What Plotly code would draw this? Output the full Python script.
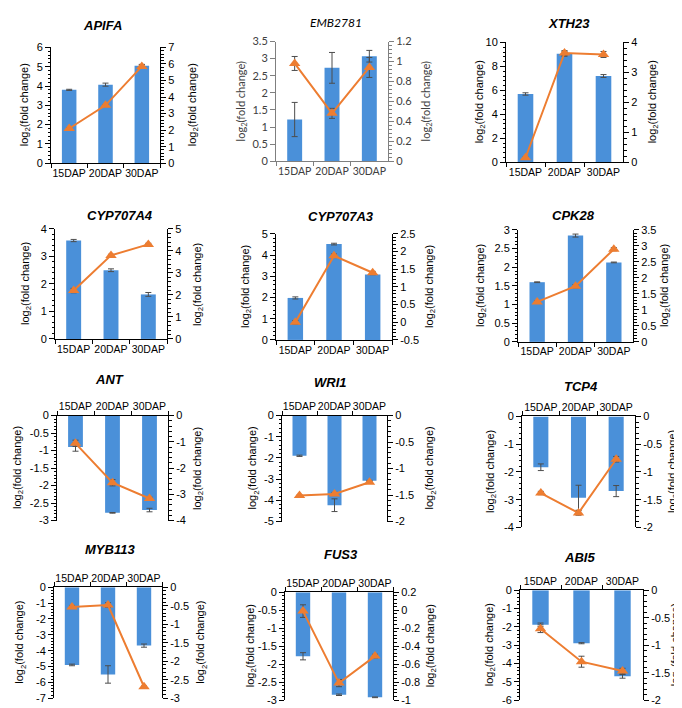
import plotly.graph_objects as go

categories = ["15DAP", "20DAP", "30DAP"]
genes = ["APIFA", "EMB2781", "XTH23", "CYP707A4", "CYP707A3", "CPK28",
         "ANT", "WRI1", "TCP4", "MYB113", "FUS3", "ABI5"]

# bar series (left axis) and line series (right axis) with their error values
APIFA_bar = [3.80, 4.07, 5.05]
APIFA_bar_err = [0.03, 0.08, 0.07]
APIFA_line = [2.1, 3.5, 5.85]
APIFA_line_err = [0.05, 0.05, 0.1]

EMB2781_bar = [1.22, 2.73, 3.07]
EMB2781_bar_err = [0.5, 0.45, 0.17]
EMB2781_line = [0.98, 0.48, 0.94]
EMB2781_line_err = [0.07, 0.05, 0.1]

XTH23_bar = [5.7, 9.05, 7.2]
XTH23_bar_err = [0.1, 0.2, 0.12]
XTH23_line = [0.15, 3.65, 3.6]
XTH23_line_err = [0.02, 0.08, 0.1]

CYP707A4_bar = [3.58, 2.5, 1.62]
CYP707A4_bar_err = [0.04, 0.05, 0.07]
CYP707A4_line = [2.2, 3.8, 4.3]
CYP707A4_line_err = [0.1, 0.05, 0.05]

CYP707A3_bar = [1.98, 4.52, 3.08]
CYP707A3_bar_err = [0.05, 0.04, 0.0]
CYP707A3_line = [0.0, 1.88, 1.4]
CYP707A3_line_err = [0.05, 0.05, 0.04]

CPK28_bar = [1.6, 2.85, 2.13]
CPK28_bar_err = [0.01, 0.04, 0.01]
CPK28_line = [1.25, 1.74, 2.9]
CPK28_line_err = [0.03, 0.05, 0.05]

ANT_bar = [-0.9, -2.78, -2.7]
ANT_bar_err = [0.12, 0.01, 0.05]
ANT_line = [-1.06, -2.56, -3.16]
ANT_line_err = [0.12, 0.12, 0.05]

WRI1_bar = [-1.9, -4.23, -3.08]
WRI1_bar_err = [0.03, 0.3, 0.02]
WRI1_line = [-1.51, -1.48, -1.26]
WRI1_line_err = [0.01, 0.03, 0.01]

TCP4_bar = [-1.83, -2.93, -2.69]
TCP4_bar_err = [0.12, 0.45, 0.2]
TCP4_line = [-1.38, -1.74, -0.77]
TCP4_line_err = [0.03, 0.04, 0.05]

MYB113_bar = [-4.9, -5.5, -3.68]
MYB113_bar_err = [0.05, 0.55, 0.1]
MYB113_line = [-0.53, -0.48, -2.69]
MYB113_line_err = [0.04, 0.06, 0.02]

FUS3_bar = [-1.78, -2.85, -2.92]
FUS3_bar_err = [0.1, 0.02, 0.01]
FUS3_line = [-0.01, -0.81, -0.51]
FUS3_line_err = [0.07, 0.04, 0.02]

ABI5_bar = [-1.89, -2.89, -4.7]
ABI5_bar_err = [0.1, 0.03, 0.1]
ABI5_line = [-0.7, -1.3, -1.47]
ABI5_line_err = [0.07, 0.1, 0.05]

# axis ranges: (min, max, step)
left_axes = [(0, 6, 1), (0, 3.5, 0.5), (0, 10, 2), (0, 4, 1), (0, 5, 1), (0, 3, 0.5),
             (-3, 0, 0.5), (-5, 0, 1), (-4, 0, 1), (-7, 0, 1), (-3, 0, 0.5), (-6, 0, 1)]
right_axes = [(0, 7, 1), (0, 1.2, 0.2), (0, 4, 1), (0, 5, 1), (-0.5, 2.5, 0.5), (0, 3.5, 0.5),
              (-4, 0, 1), (-2, 0, 0.5), (-2, 0, 0.5), (-3, 0, 0.5), (-1, 0.2, 0.2), (-2, 0, 0.5)]

series = [
    (APIFA_bar, APIFA_bar_err, APIFA_line, APIFA_line_err),
    (EMB2781_bar, EMB2781_bar_err, EMB2781_line, EMB2781_line_err),
    (XTH23_bar, XTH23_bar_err, XTH23_line, XTH23_line_err),
    (CYP707A4_bar, CYP707A4_bar_err, CYP707A4_line, CYP707A4_line_err),
    (CYP707A3_bar, CYP707A3_bar_err, CYP707A3_line, CYP707A3_line_err),
    (CPK28_bar, CPK28_bar_err, CPK28_line, CPK28_line_err),
    (ANT_bar, ANT_bar_err, ANT_line, ANT_line_err),
    (WRI1_bar, WRI1_bar_err, WRI1_line, WRI1_line_err),
    (TCP4_bar, TCP4_bar_err, TCP4_line, TCP4_line_err),
    (MYB113_bar, MYB113_bar_err, MYB113_line, MYB113_line_err),
    (FUS3_bar, FUS3_bar_err, FUS3_line, FUS3_line_err),
    (ABI5_bar, ABI5_bar_err, ABI5_line, ABI5_line_err),
]

# layout (pixels): plot area left, right, top, bottom
boxes = [(43, 152, 33, 151), (268, 380, 27, 149), (498, 615, 28, 150),
         (47, 159, 218, 330), (268, 384, 223, 331), (510, 625, 219, 333),
         (49, 160, 408, 515), (274, 379, 408, 516), (514, 627, 409, 522),
         (46, 154, 583, 696), (277, 385, 588, 698), (512, 635, 586, 698)]
title_pos = [(95, 11), (328, 8), (561, 9), (112, 204), (333, 205), (565, 204),
             (101, 371), (322, 374), (573, 378), (102, 544), (333, 550), (571, 553)]
ytitle_x = [(17, 185), (233, 418), (472, 645), (18, 190), (238, 422), (473, 657),
            (10, 190), (245, 422), (483, 665), (12, 193), (243, 423), (482, 668)]

W, H = 682, 708
BLUE = "#4a90d9"
ORANGE = "#ed7d31"
ERR = "#4d4d4d"
FONT = "Liberation Sans, Arial, sans-serif"


def fx(x):
    return x / W


def fy(y):
    return 1 - y / H


def fmt(v):
    v = round(v, 6)
    if abs(v) < 1e-9:
        v = 0.0
    return f"{v:g}"


def ticks(lo, hi, step):
    n = int(round((hi - lo) / step))
    vals = [round(lo + i * step, 6) for i in range(n + 1)]
    minor = []
    ms = step / 5
    for i in range(n * 5 + 1):
        v = round(lo + i * ms, 6)
        if i % 5 != 0:
            minor.append(v)
    return vals, [fmt(v) for v in vals], minor


fig = go.Figure()
annotations = []
layout = {}

for k in range(12):
    i = k + 1
    bar, bar_err, line, line_err = series[k]
    xa = "x" if i == 1 else f"x{i}"
    yl = "y" if 2 * i - 1 == 1 else f"y{2 * i - 1}"
    yr = f"y{2 * i}"
    xkey = "xaxis" if i == 1 else f"xaxis{i}"
    ylkey = "yaxis" if 2 * i - 1 == 1 else f"yaxis{2 * i - 1}"
    yrkey = f"yaxis{2 * i}"
    excel = genes[k] == "EMB2781"
    axcol = "#7f7f7f" if excel else "black"
    tcol = "#404040" if excel else "black"
    fam = "Lato, Open Sans, sans-serif" if excel else FONT
    tfont = dict(family=fam, size=11, color=tcol)
    xfont = dict(family=fam, size=10.5, color=tcol)

    fig.add_trace(go.Bar(
        x=categories, y=bar, width=0.4, marker=dict(color=BLUE, line=dict(width=0)),
        error_y=dict(type="data", array=bar_err, color=ERR, thickness=1, width=3),
        xaxis=xa, yaxis=yl, showlegend=False))
    fig.add_trace(go.Scatter(
        x=categories, y=line, mode="lines+markers",
        line=dict(color=ORANGE, width=2),
        marker=dict(symbol="triangle-up", size=10, color=ORANGE),
        error_y=dict(type="data", array=line_err, color=ERR, thickness=1, width=3),
        xaxis=xa, yaxis=yr, showlegend=False))

    x0, x1, yt, yb = boxes[k]
    neg = left_axes[k][1] <= 0
    layout[xkey] = dict(
        domain=[fx(x0), fx(x1)], anchor=yl, type="category", range=[-0.5, 2.5],
        showline=True, linecolor=axcol, linewidth=1, ticks="outside", tickson="boundaries",
        ticklen=4, tickcolor=axcol, tickfont=xfont, tickangle=0, side="top" if neg else "bottom",
        showgrid=False, zeroline=False, fixedrange=True)

    lv, lt, lm = ticks(*left_axes[k])
    layout[ylkey] = dict(
        domain=[fy(yb), fy(yt)], anchor=xa, range=[left_axes[k][0], left_axes[k][1]],
        tickmode="array", tickvals=lv, ticktext=lt, showline=True, linecolor=axcol,
        linewidth=1, ticks="outside", ticklen=5, tickcolor=axcol, tickfont=tfont,
        minor=dict(tickmode="array", tickvals=[] if excel else lm, ticks="outside",
                   ticklen=2.5, tickcolor=axcol),
        showgrid=False, zeroline=False, fixedrange=True)

    rv, rt, rm = ticks(*right_axes[k])
    layout[yrkey] = dict(
        overlaying=yl, side="right", anchor=xa, range=[right_axes[k][0], right_axes[k][1]],
        tickmode="array", tickvals=rv, ticktext=rt, showline=True, linecolor=axcol,
        linewidth=1, ticks="outside", ticklen=5, tickcolor=axcol, tickfont=tfont,
        minor=dict(tickmode="array", tickvals=rm, ticks="outside", ticklen=2.5, tickcolor=axcol),
        showgrid=False, zeroline=False, fixedrange=True)

    tx, ty = title_pos[k]
    annotations.append(dict(
        x=fx(tx), y=fy(ty), xref="paper", yref="paper", showarrow=False,
        text=f"<i>{genes[k]}</i>" if excel else f"<b><i>{genes[k]}</i></b>",
        font=dict(family=fam, size=13 if not excel else 12, color="black"),
        xanchor="center", yanchor="middle"))
    ymid = (yt + yb) / 2
    for xp in ytitle_x[k]:
        annotations.append(dict(
            x=fx(xp), y=fy(ymid), xref="paper", yref="paper", showarrow=False,
            text="log<sub>2</sub>(fold change)", textangle=-90,
            font=dict(family=fam, size=11, color=tcol),
            xanchor="center", yanchor="middle"))

fig.update_layout(
    width=W, height=H, margin=dict(l=0, r=0, t=0, b=0),
    paper_bgcolor="white", plot_bgcolor="white", showlegend=False,
    annotations=annotations, bargap=0.6, **layout)

fig.write_html("out.html")
